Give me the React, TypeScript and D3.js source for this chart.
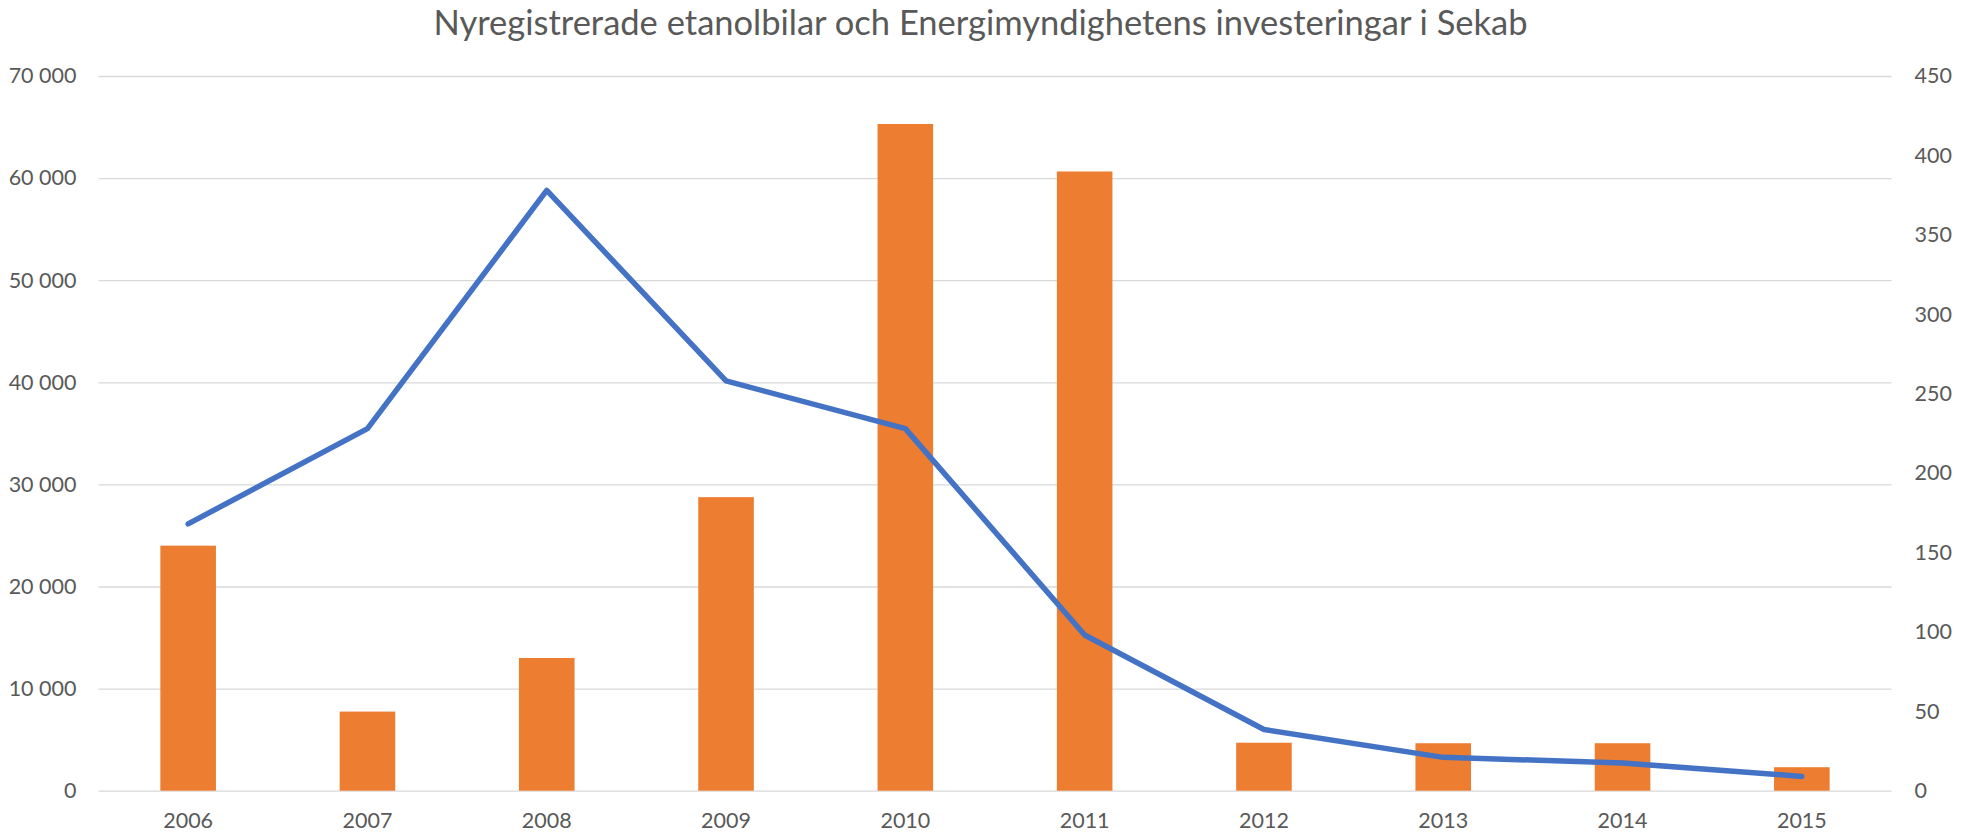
import React, { useEffect, useRef } from 'react';
import * as d3 from 'd3';

// data
const years = ['2006', '2007', '2008', '2009', '2010', '2011', '2012', '2013', '2014', '2015'];
const newCars = [24000, 7750, 13000, 28750, 65300, 60650, 4700, 4650, 4650, 2300];
const investments = [168, 228, 378, 258, 228, 98, 38.5, 21, 17.5, 9];
const leftTicks = [0, 10000, 20000, 30000, 40000, 50000, 60000, 70000];
const rightTicks = [0, 50, 100, 150, 200, 250, 300, 350, 400, 450];
const title = 'Nyregistrerade etanolbilar och Energimyndighetens investeringar i Sekab';

function App() {
  const ref = useRef<SVGSVGElement>(null);

  useEffect(() => {
    const width = 1967,
      left = 98.5,
      right = 1891.5,
      top = 76,
      bottom = 790.7,
      font = 'Lato, "Open Sans", sans-serif',
      tickSize = 21.5,
      textColor = '#595959';

    const svg = d3.select(ref.current);
    svg.selectAll('*').remove();

    const x = d3.scaleBand().domain(years).range([left, right]).paddingInner(0.69).paddingOuter(0.345);
    const y = d3.scaleLinear().domain([0, 70000]).range([bottom, top]);
    const y2 = d3.scaleLinear().domain([0, 450]).range([bottom, top]);

    const sv = d3.formatLocale({ decimal: ',', thousands: ' ', grouping: [3], currency: ['', ' kr'] });
    const fmt = sv.format(',d');

    svg.append('text')
      .attr('x', width / 2 - 3)
      .attr('y', 35)
      .attr('text-anchor', 'middle')
      .attr('font-family', font)
      .attr('font-size', 34.5)
      .attr('fill', textColor)
      .text(title);

    // left axis + gridlines
    const gy = svg.append('g')
      .attr('transform', 'translate(' + left + ',0)')
      .call(d3.axisLeft(y).tickValues(leftTicks).tickFormat((d) => fmt(+d)).tickSize(-(right - left)).tickPadding(22));
    gy.select('.domain').remove();
    gy.selectAll('line').attr('stroke', '#D9D9D9').attr('stroke-width', 1.3);
    gy.selectAll('text').attr('font-family', font).attr('font-size', tickSize).attr('fill', textColor);

    // right axis
    const gy2 = svg.append('g')
      .attr('transform', 'translate(' + right + ',0)')
      .call(d3.axisRight(y2).tickValues(rightTicks).tickSize(0).tickPadding(23));
    gy2.select('.domain').remove();
    gy2.selectAll('text').attr('font-family', font).attr('font-size', tickSize).attr('fill', textColor);

    // x axis
    const gx = svg.append('g')
      .attr('transform', 'translate(0,' + bottom + ')')
      .call(d3.axisBottom(x).tickSize(0));
    gx.select('.domain').remove();
    gx.selectAll('text')
      .attr('y', 30)
      .attr('dy', '0.35em')
      .attr('font-family', font)
      .attr('font-size', tickSize)
      .attr('fill', textColor);

    // bars
    svg.append('g')
      .selectAll('rect')
      .data(newCars)
      .enter().append('rect')
      .attr('x', (d, i) => x(years[i]) as number)
      .attr('width', x.bandwidth())
      .attr('y', (d) => y(d))
      .attr('height', (d) => y(0) - y(d))
      .attr('fill', '#ED7D31');

    // line on secondary axis
    const line = d3.line<number>()
      .x((d, i) => (x(years[i]) as number) + x.bandwidth() / 2)
      .y((d) => y2(d));

    svg.append('path')
      .datum(investments)
      .attr('d', line)
      .attr('fill', 'none')
      .attr('stroke', '#4472C4')
      .attr('stroke-width', 5.5)
      .attr('stroke-linejoin', 'round')
      .attr('stroke-linecap', 'round');
  }, []);

  return (
    <svg
      ref={ref}
      width={1967}
      height={834}
      style={{ position: 'absolute', left: 0, top: 0, background: '#fff' }}
    />
  );
}

export default App;
